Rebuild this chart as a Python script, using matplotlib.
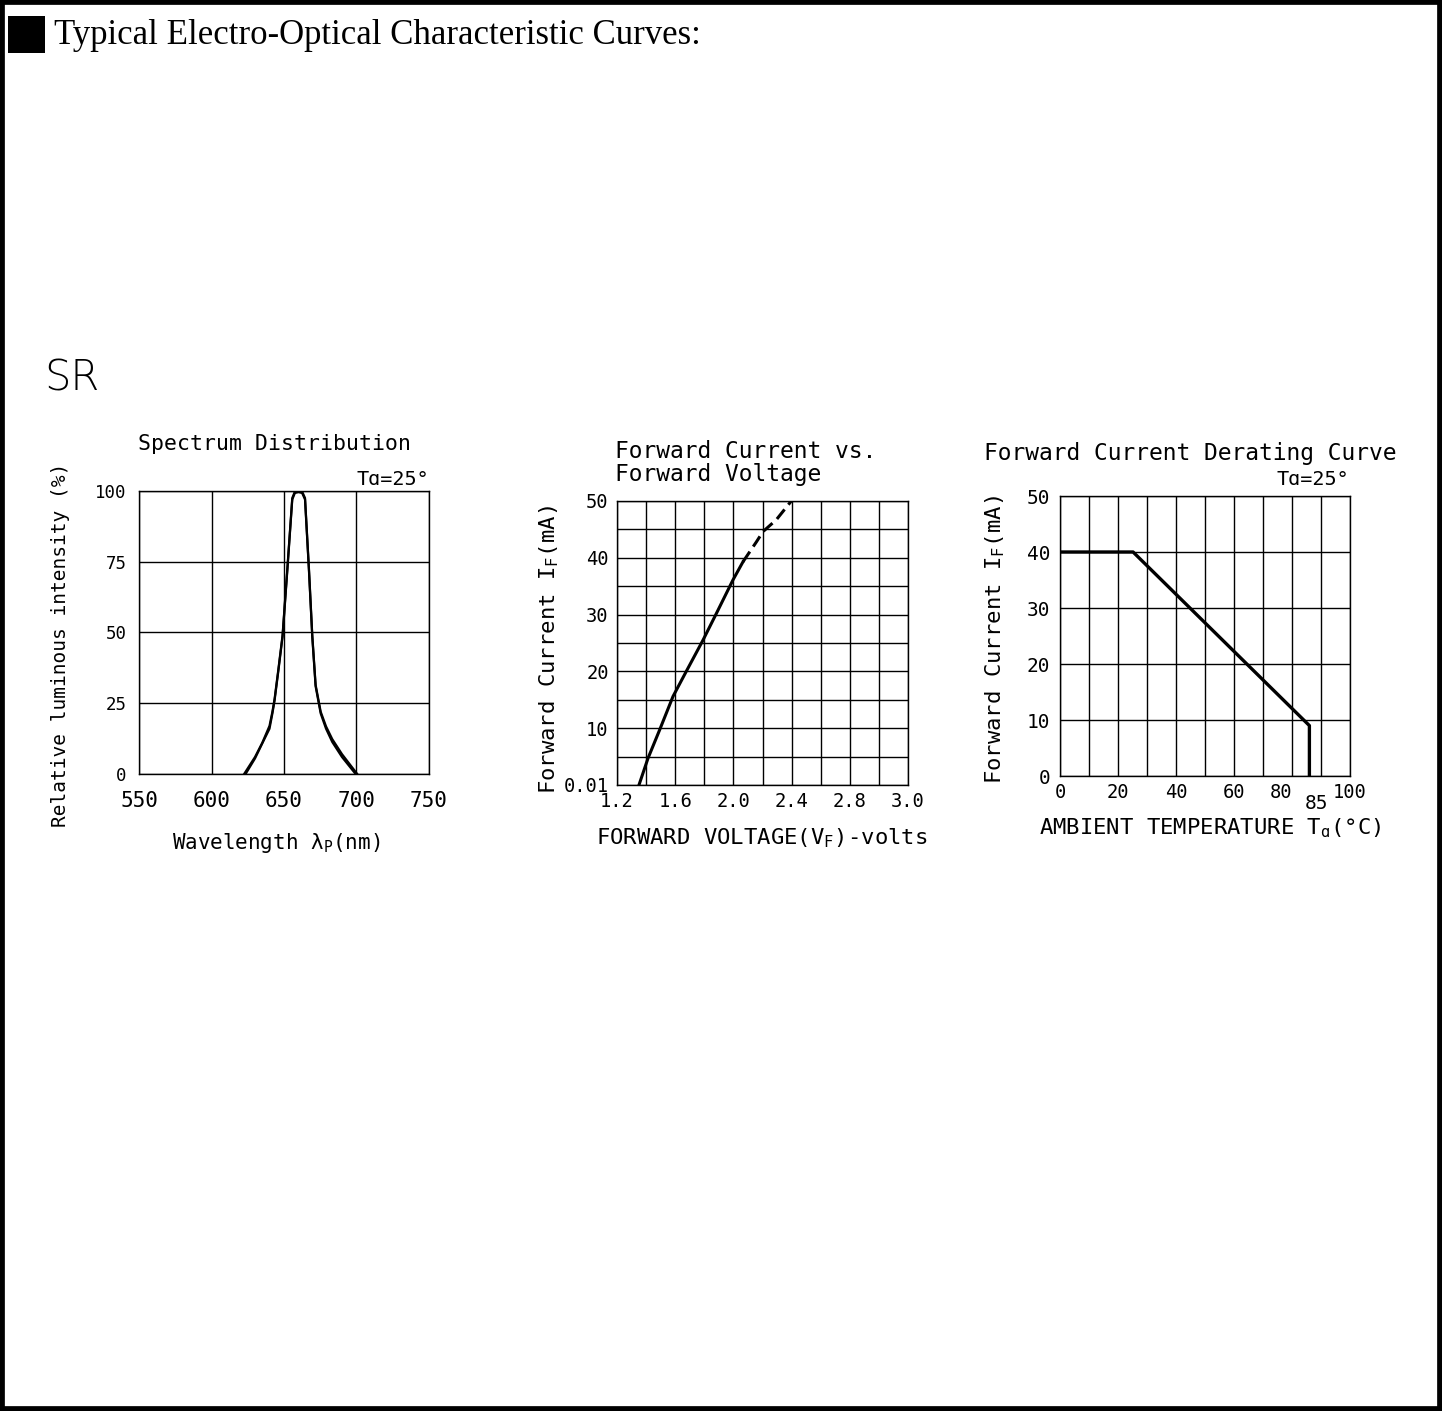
import matplotlib

matplotlib.use("Agg")

import matplotlib.pyplot as plt
from matplotlib.patches import Rectangle


FIG_W, FIG_H = 1442, 1411

# Spectrum distribution (two nearly overlapping traces)
spectrum_wavelength_a = [623.5, 630, 635, 640, 642, 643.5, 646, 649, 652.3, 655.7, 657.5, 660, 662.5, 664.5, 667.2, 669.5, 671.8, 675.3, 679, 683.3, 690, 699.4]
spectrum_intensity_a = [0, 5.5, 10.8, 16, 21.4, 26, 36, 48.5, 72, 97, 99.3, 99.6, 99.3, 97, 72, 48.5, 31, 21.4, 16, 11.3, 6, 0]
spectrum_wavelength_b = [622.5, 630, 635, 640, 642, 643.5, 646, 649, 652.3, 655.7, 657.5, 660, 662.5, 664.5, 667.2, 669.5, 671.8, 675.3, 679, 683.3, 690, 700.5]
spectrum_intensity_b = [0, 6, 11, 17, 22, 26.5, 36.5, 49, 72.5, 97.5, 99.8, 100, 99.8, 97.5, 72.5, 49, 31.5, 22, 16.8, 12.3, 7, 0]
spectrum_xticks = [550, 600, 650, 700, 750]
spectrum_yticks = [0, 25, 50, 75, 100]

# Forward current vs forward voltage
fv_solid_volts = [1.351, 1.413, 1.493, 1.585, 1.676, 1.791, 1.883, 1.997, 2.066]
fv_solid_current = [0, 4.7, 9.7, 15.6, 20, 25.5, 30.2, 36.1, 39.3]
fv_dashed_volts = [2.066, 2.158, 2.203, 2.295, 2.398]
fv_dashed_current = [39.3, 42.8, 44.6, 46.7, 50]
fv_xticks = [1.2, 1.6, 2.0, 2.4, 2.8, 3.2]
fv_xticklabels = ["1.2", "1.6", "2.0", "2.4", "2.8", "3.0"]
fv_yticks = [0, 10, 20, 30, 40, 50]
fv_yticklabels = ["0.01", "10", "20", "30", "40", "50"]

# Forward current derating curve
derating_temp = [0, 25.2, 86, 86]
derating_current = [40, 40, 9, 0]
derating_xticks = [0, 20, 40, 60, 80, 100]
derating_yticks = [0, 10, 20, 30, 40, 50]

MONO = "DejaVu Sans Mono"

plt.rcParams["font.family"] = [MONO, "DejaVu Sans"]
plt.rcParams["mathtext.fontset"] = "custom"
plt.rcParams["mathtext.rm"] = MONO
plt.rcParams["mathtext.default"] = "regular"


def px_box(left, top, right, bottom):
    return [left / FIG_W, 1 - bottom / FIG_H, (right - left) / FIG_W, (bottom - top) / FIG_H]


def px(x, y):
    return x / FIG_W, 1 - y / FIG_H


def style_axes(ax):
    ax.grid(True, color="black", linewidth=1.0)
    ax.set_axisbelow(True)
    for spine in ax.spines.values():
        spine.set_linewidth(1.0)
    ax.tick_params(length=0)


fig = plt.figure(figsize=(FIG_W / 100, FIG_H / 100), dpi=100)

# page frame and header
fig.patches.append(Rectangle((0, 0), 1, 1, transform=fig.transFigure, fill=False,
                             edgecolor="black", linewidth=7))
sx, sy = px(8, 53)
fig.patches.append(Rectangle((sx, sy), 37 / FIG_W, 37 / FIG_H, transform=fig.transFigure,
                             facecolor="black", edgecolor="none"))
fig.text(*px(54, 35), "Typical Electro-Optical Characteristic Curves:",
         family="Liberation Serif", fontsize=25, ha="left", va="center")
fig.text(*px(44, 378), "SR", fontsize=30, ha="left", va="center",
         family="DejaVu Sans", fontweight="light")

# panel 1: spectrum
ax1 = fig.add_axes(px_box(139, 491, 429, 774))
ax1.plot(spectrum_wavelength_a, spectrum_intensity_a, color="black", linewidth=1.6)
ax1.plot(spectrum_wavelength_b, spectrum_intensity_b, color="black", linewidth=1.6)
ax1.set_xlim(550, 750)
ax1.set_ylim(0, 100)
ax1.set_xticks(spectrum_xticks)
ax1.set_yticks(spectrum_yticks)
style_axes(ax1)
ax1.tick_params(axis="x", labelsize=15, pad=12)
ax1.tick_params(axis="y", labelsize=12.5, pad=9)
fig.text(*px(274, 444), "Spectrum Distribution", fontsize=15.5, ha="center", va="center")
fig.text(*px(429, 479), "T\u0251=25\u00b0", fontsize=14.5, ha="right", va="center")
fig.text(*px(61, 645), "Relative luminous intensity (%)", fontsize=14, rotation=90,
         ha="center", va="center")
fig.text(*px(276, 843), "Wavelength \u03bb$_{P}$(nm)", fontsize=15, ha="center", va="center")

# panel 2: forward current vs forward voltage
ax2 = fig.add_axes(px_box(617, 501, 908, 785))
ax2.plot(fv_solid_volts, fv_solid_current, color="black", linewidth=2.2)
ax2.plot(fv_dashed_volts, fv_dashed_current, color="black", linewidth=2.2,
         linestyle=(0, (4, 2)))
ax2.set_xlim(1.2, 3.2)
ax2.set_ylim(0, 50)
ax2.set_xticks([1.2 + 0.2 * i for i in range(11)], minor=True)
ax2.set_yticks([5 * i for i in range(11)], minor=True)
ax2.set_xticks(fv_xticks)
ax2.set_xticklabels(fv_xticklabels)
ax2.set_yticks(fv_yticks)
ax2.set_yticklabels(fv_yticklabels)
style_axes(ax2)
ax2.grid(True, which="minor", color="black", linewidth=1.0)
ax2.tick_params(which="both", length=0)
ax2.tick_params(axis="x", labelsize=13.5, pad=5)
ax2.tick_params(axis="y", labelsize=13.5, pad=6)
fig.text(*px(615, 451), "Forward Current vs.", fontsize=16.5, ha="left", va="center")
fig.text(*px(615, 474), "Forward Voltage", fontsize=16.5, ha="left", va="center")
fig.text(*px(549, 650), "Forward Current I$_{F}$(mA)", fontsize=16, rotation=90,
         ha="center", va="center")
fig.text(*px(762, 838), "FORWARD VOLTAGE(V$_{F}$)-volts", fontsize=16, ha="center", va="center")

# panel 3: derating curve
ax3 = fig.add_axes(px_box(1060, 496, 1350, 776))
ax3.plot(derating_temp, derating_current, color="black", linewidth=2.4)
ax3.set_xlim(0, 100)
ax3.set_ylim(0, 50)
ax3.set_xticks(list(range(0, 101, 10)), minor=True)
ax3.set_xticks(derating_xticks)
ax3.set_yticks(derating_yticks)
style_axes(ax3)
ax3.grid(True, which="minor", axis="x", color="black", linewidth=1.0)
ax3.tick_params(which="both", length=0)
ax3.tick_params(axis="x", labelsize=13.5, pad=5)
ax3.tick_params(axis="y", labelsize=14, pad=7)
for lbl in ax3.get_xticklabels():
    if lbl.get_text() == "80":
        lbl.set_horizontalalignment("right")
        lbl.set_x(lbl.get_position()[0])
ax3.annotate("85", xy=(86, 0), xycoords=("data", "axes fraction"), xytext=(5, -13),
             textcoords="offset points", ha="center", va="top", fontsize=14)
fig.text(*px(1190, 453), "Forward Current Derating Curve", fontsize=16.5, ha="center", va="center")
fig.text(*px(1349, 479), "T\u0251=25\u00b0", fontsize=14.5, ha="right", va="center")
fig.text(*px(995, 640), "Forward Current I$_{F}$(mA)", fontsize=16, rotation=90,
         ha="center", va="center")
fig.text(*px(1210, 828), "AMBIENT TEMPERATURE T$_{\u0251}$(\u00b0C)", fontsize=16,
         ha="center", va="center")

fig.savefig("out.png", dpi=100)
